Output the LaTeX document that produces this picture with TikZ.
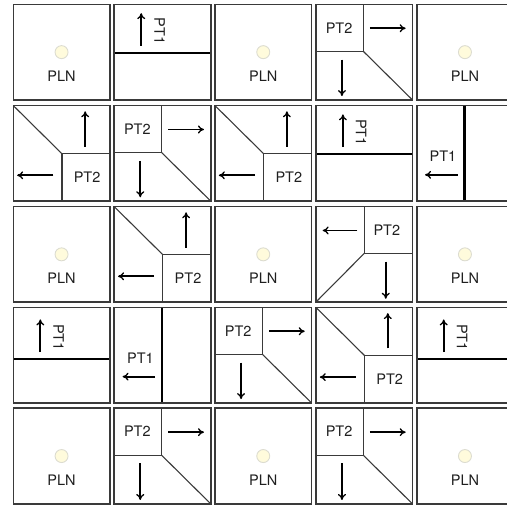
\documentclass[tikz,border=0pt]{standalone}
\usepackage{fontspec}
\setmainfont{TeX Gyre Heros}
\usetikzlibrary{arrows.meta}
\definecolor{bordc}{HTML}{3A3A3A}
\definecolor{dotfill}{HTML}{FFFBDC}
\definecolor{dotdraw}{HTML}{DCDCD0}
\tikzset{
 cellbox/.style={draw=bordc,line width=1.6pt},
 thinline/.style={draw=bordc,line width=1.1pt},
 thickline/.style={draw=black,line width=2.2pt},
 arrowline/.style={draw=black,line width=1.8pt,-{To[length=6pt,width=8pt,line width=1.3pt]}},
 lbl/.style={font=\fontsize{14.5pt}{16pt}\selectfont,text=black!88,inner sep=0pt},
 plndot/.style={circle,draw=dotdraw,fill=dotfill,line width=0.9pt,minimum size=13pt,inner sep=0pt},
 cellsc/.style={x=96.5pt,y=-95.5pt},
 pics/pln/.style={code={
   \draw[cellbox] (0,0) rectangle (1,1);
   \node[plndot] (-dot) at (0.5,0.5) {};
   \node[lbl] (-t) at (0.5,0.755) {PLN};
 }},
 pics/pttl/.style={code={
   \draw[thinline] (0.49,0) -- (0.49,0.49) -- (0,0.49);
   \draw[thinline] (0.49,0.49) -- (1,1);
   \draw[cellbox] (0,0) rectangle (1,1);
   \node[lbl] (-t) at (0.24,0.245) {PT2};
   \coordinate (-a1) at (0.56,0.25); \coordinate (-a2) at (0.93,0.25);
   \coordinate (-b1) at (0.27,0.578); \coordinate (-b2) at (0.27,0.96);
   \draw[arrowline] (-a1) -- (-a2);
   \draw[arrowline] (-b1) -- (-b2);
 }},
 pics/ptbr/.style={code={
   \draw[thinline] (0.505,1) -- (0.505,0.505) -- (1,0.505);
   \draw[thinline] (0,0) -- (0.505,0.505);
   \draw[cellbox] (0,0) rectangle (1,1);
   \node[lbl] (-t) at (0.765,0.755) {PT2};
   \coordinate (-a1) at (0.415,0.73); \coordinate (-a2) at (0.04,0.73);
   \coordinate (-b1) at (0.745,0.43); \coordinate (-b2) at (0.745,0.06);
   \draw[arrowline] (-a1) -- (-a2);
   \draw[arrowline] (-b1) -- (-b2);
 }},
 pics/pttr/.style={code={
   \draw[thinline] (0.504,0) -- (0.504,0.487) -- (1,0.487);
   \draw[thinline] (0.504,0.487) -- (0,1);
   \draw[cellbox] (0,0) rectangle (1,1);
   \node[lbl] (-t) at (0.735,0.245) {PT2};
   \coordinate (-a1) at (0.43,0.25); \coordinate (-a2) at (0.07,0.25);
   \coordinate (-b1) at (0.724,0.575); \coordinate (-b2) at (0.724,0.965);
   \draw[arrowline] (-a1) -- (-a2);
   \draw[arrowline] (-b1) -- (-b2);
 }},
 pics/pt1h/.style={code={
   \draw[thickline] (0,{0.505+#1}) -- (1,{0.505+#1});
   \draw[cellbox] (0,0) rectangle (1,1);
   \coordinate (-a1) at (0.28,{0.435+#1}); \coordinate (-a2) at (0.28,{0.092+#1});
   \draw[arrowline] (-a1) -- (-a2);
   \node[lbl,rotate=-90] (-t) at (0.47,{0.28+#1}) {PT1};
 }},
 pics/pt1v/.style={code={
   \draw[thickline] (0.495,0) -- (0.495,1);
   \draw[cellbox] (0,0) rectangle (1,1);
   \coordinate (-a1) at (0.423,0.725); \coordinate (-a2) at (0.087,0.725);
   \draw[arrowline] (-a1) -- (-a2);
   \node[lbl] (-t) at (0.272,0.528) {PT1};
 }}
}
\begin{document}
\begin{tikzpicture}
\useasboundingbox (0,0) rectangle (507pt,-505pt);
\clip (0,0) rectangle (507pt,-505pt);
% row 1
\pic (c11) [cellsc] at (13.3pt,-4.4pt) {pln};
\pic (c12) [cellsc] at (114.2pt,-4.4pt) {pt1h=0};
\pic (c13) [cellsc] at (215.0pt,-4.4pt) {pln};
\pic (c14) [cellsc] at (315.9pt,-4.4pt) {pttl};
\pic (c15) [cellsc] at (416.7pt,-4.4pt) {pln};
% row 2
\pic (c21) [cellsc] at (13.3pt,-105.6pt) {ptbr};
\pic (c22) [cellsc] at (114.2pt,-105.6pt) {pttl};
\pic (c23) [cellsc] at (215.0pt,-105.6pt) {ptbr};
\pic (c24) [cellsc] at (315.9pt,-105.6pt) {pt1h=0};
\pic (c25) [cellsc] at (416.7pt,-105.6pt) {pt1v};
% row 3
\pic (c31) [cellsc] at (13.3pt,-206.6pt) {pln};
\pic (c32) [cellsc] at (114.2pt,-206.6pt) {ptbr};
\pic (c33) [cellsc] at (215.0pt,-206.6pt) {pln};
\pic (c34) [cellsc] at (315.9pt,-206.6pt) {pttr};
\pic (c35) [cellsc] at (416.7pt,-206.6pt) {pln};
% row 4
\pic (c41) [cellsc] at (13.3pt,-307.4pt) {pt1h=0.034};
\pic (c42) [cellsc] at (114.2pt,-307.4pt) {pt1v};
\pic (c43) [cellsc] at (215.0pt,-307.4pt) {pttl};
\pic (c44) [cellsc] at (315.9pt,-307.4pt) {ptbr};
\pic (c45) [cellsc] at (416.7pt,-307.4pt) {pt1h=0.034};
% row 5
\pic (c51) [cellsc] at (13.3pt,-408.3pt) {pln};
\pic (c52) [cellsc] at (114.2pt,-408.3pt) {pttl};
\pic (c53) [cellsc] at (215.0pt,-408.3pt) {pln};
\pic (c54) [cellsc] at (315.9pt,-408.3pt) {pttl};
\pic (c55) [cellsc] at (416.7pt,-408.3pt) {pln};
\end{tikzpicture}
\end{document}
